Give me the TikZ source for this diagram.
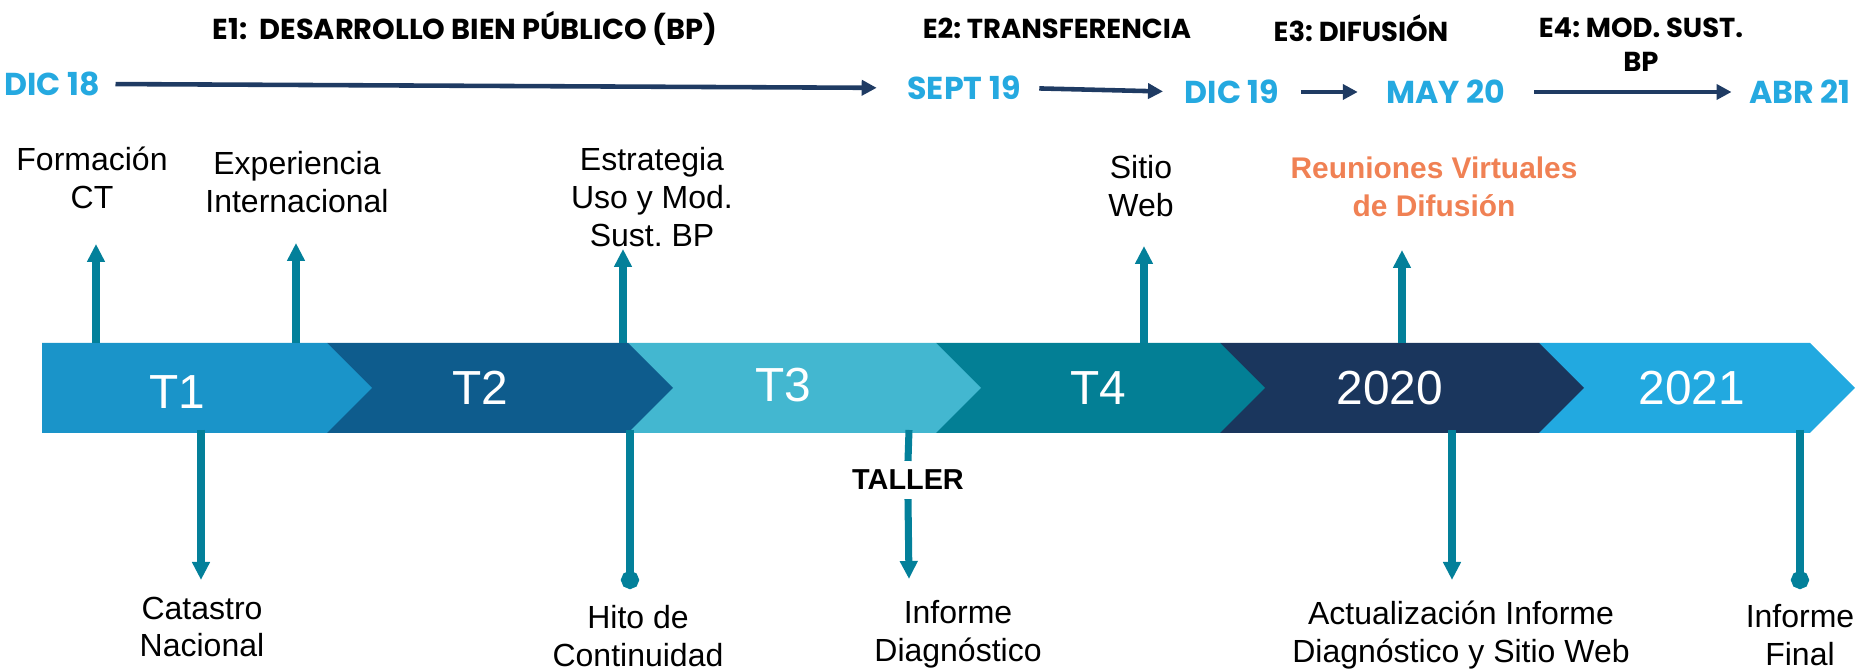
\documentclass[tikz,border=0pt]{standalone}
\usepackage{fontspec}
\setmainfont{Liberation Sans}
\newfontfamily\poppins{Poppins}
\usetikzlibrary{arrows.meta}
\frenchspacing

\definecolor{tramoA}{HTML}{1A94C9}
\definecolor{tramoB}{HTML}{0E5C8D}
\definecolor{tramoC}{HTML}{43B7D0}
\definecolor{tramoD}{HTML}{037F95}
\definecolor{tramoE}{HTML}{1A365D}
\definecolor{tramoF}{HTML}{22A9E0}
\definecolor{flecha}{HTML}{03809A}
\definecolor{fecha}{HTML}{25A9E0}
\definecolor{naranjo}{HTML}{F08154}
\definecolor{marino}{HTML}{1F3B63}

\tikzset{
  hito/.style={align=center, inner sep=0, font=\fontsize{9.1}{10.8}\selectfont},
  etapa/.style={align=center, inner sep=0, font=\poppins\bfseries\fontsize{7.8}{9.7}\selectfont},
  mes/.style={inner sep=0, text depth=0pt, text=fecha, font=\poppins\bfseries\fontsize{9}{10}\selectfont},
  tramo/.style={inner sep=0, text depth=0pt, text=white, font=\fontsize{13.6}{14}\selectfont},
  linea/.style={flecha, line width=2pt},
  sube/.style={linea, -{Triangle[width=0.17cm,length=0.18cm]}},
  punto/.style={linea, -{Circle[length=0.18cm]}},
  avance/.style={marino, line width=1.3pt, -{Triangle[width=0.15cm,length=0.15cm]}}
}

\begin{document}
\begin{tikzpicture}[x=0.01cm,y=-0.01cm]
\useasboundingbox (0,0) rectangle (1862,671);

% barra de tramos (de derecha a izquierda)
\foreach \ini/\fin/\col in {1539/1810/tramoF, 1220/1539/tramoE, 936/1220/tramoD,
                             628/936/tramoC, 327/628/tramoB, 42/327/tramoA}
  \fill[\col] (\ini,343) -- (\fin,343) -- (\fin+45,388) -- (\fin,433) -- (\ini,433) -- cycle;

\foreach \x/\y/\t [count=\i] in {177/392/T1, 480/388/T2, 783/385/T3,
                                 1098/388/T4, 1390/388/2020, 1692/388/2021}
  \node[tramo] (t\i) at (\x,\y) {\t};

% etapas y fechas
\node[etapa, font=\poppins\bfseries\fontsize{8.2}{9.7}\selectfont] (e1) at (465,28)
  {E1:\ \ DESARROLLO BIEN PÚBLICO (BP)};
\node[etapa] (e2) at (1057,28) {E2: TRANSFERENCIA};
\node[etapa] (e3) at (1361,28) {E3: DIFUSIÓN};
\node[etapa] (e4) at (1641,45) {E4: MOD. SUST.\\BP};

\node[mes] (dic18) at (52,84) {DIC 18};
\node[mes] (sep19) at (964,88) {SEPT 19};
\node[mes] (dic19) at (1232,92) {DIC 19};
\node[mes] (may20) at (1446,92) {MAY 20};
\node[mes] (abr21) at (1800,92) {ABR 21};

\draw[avance, shorten <=0.15cm, shorten >=0.3cm] (dic18.east) -- (sep19.west);
\draw[avance, shorten <=0.18cm, shorten >=0.21cm] (sep19.east) -- (dic19.west);
\draw[avance, shorten <=0.21cm, shorten >=0.28cm] (dic19.east) -- (may20.west);
\draw[avance, shorten <=0.28cm, shorten >=0.17cm] (may20.east) -- (abr21.west);

% hitos sobre la barra
\node[hito] (form) at (92,178) {Formación\\CT};
\node[hito] (expe) at (297,182) {Experiencia\\Internacional};
\node[hito] (estr) at (652,197) {Estrategia\\Uso y Mod.\\Sust. BP};
\node[hito] (web) at (1141,186) {Sitio\\Web};
\node[hito, text=naranjo, font=\bfseries\fontsize{8.5}{10.8}\selectfont] (reun) at (1434,187)
  {Reuniones Virtuales\\de Difusión};

\foreach \n/\x/\y in {fo/96/244, ex/296/243, es/623/249, si/1144/246, re/1402/250} {
  \coordinate (\n0) at (\x,343);
  \coordinate (\n1) at (\x,\y);
  \draw[sube] (\n0) -- (\n1);
}

% hitos bajo la barra
\node[hito] (cat) at (202,627) {Catastro\\Nacional};
\node[hito] (cont) at (638,636) {Hito de\\Continuidad};
\node[hito] (diag) at (958,634) {Informe\\Diagnóstico};
\node[hito] (act) at (1461,635) {Actualización Informe\\Diagnóstico y Sitio Web};
\node[hito] (final) at (1800,635) {Informe\\Final};
\node[fill=white, inner xsep=1pt, inner ysep=2.4pt, font=\bfseries\fontsize{8.2}{9}\selectfont]
  (taller) at (908,480) {TALLER};

\coordinate (ca0) at (201,430);  \coordinate (ca1) at (201,580);
\coordinate (hi0) at (630,430);  \coordinate (hi1) at (630,589);
\coordinate (ta0) at (909,430);  \coordinate (ta1) at (909,579);
\coordinate (ac0) at (1452,430); \coordinate (ac1) at (1452,580);
\coordinate (fi0) at (1800,430); \coordinate (fi1) at (1800,589);

\draw[sube] (ca0) -- (ca1);
\draw[punto] (hi0) -- (hi1);
\draw[linea] (ta0) -- (taller.north);
\draw[sube] (taller.south) -- (ta1);
\draw[sube] (ac0) -- (ac1);
\draw[punto] (fi0) -- (fi1);
\end{tikzpicture}
\end{document}
